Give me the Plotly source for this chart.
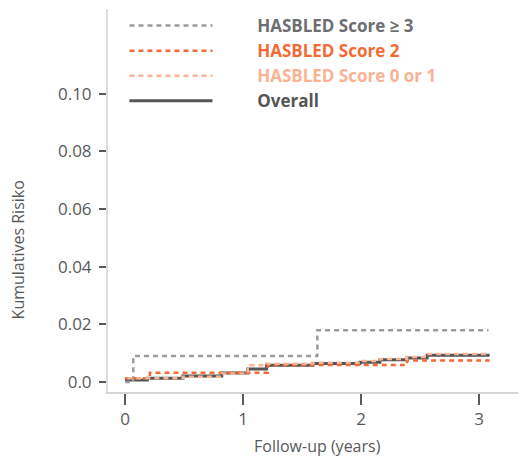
import plotly.graph_objects as go

# ---- data (step functions: time in years, cumulative risk) ----
overall_t = [0, 0.19, 0.49, 0.82, 1.04, 1.20, 1.59, 1.99, 2.16, 2.39, 2.56, 3.09]
overall_r = [0.0007, 0.0013, 0.0021, 0.0031, 0.0045, 0.0058, 0.0064, 0.0069, 0.0077, 0.0083, 0.0093, 0.0093]

hb3_t = [0, 0.07, 1.63, 3.08]
hb3_r = [0.0, 0.009, 0.018, 0.018]

hb2_t = [0, 0.21, 1.21, 2.39, 3.09]
hb2_r = [0.0013, 0.0032, 0.0059, 0.0075, 0.0075]

hb01_t = [0.02, 0.49, 0.82, 1.04, 1.20, 1.59, 1.99, 2.16, 2.39, 2.56, 3.09]
hb01_r = [0.0013, 0.0018, 0.0030, 0.0058, 0.0063, 0.0067, 0.0073, 0.0080, 0.0087, 0.0097, 0.0097]

x_ticks = [0, 1, 2, 3]
y_ticks = [0.0, 0.02, 0.04, 0.06, 0.08, 0.10]
y_tick_labels = ["0.0", "0.02", "0.04", "0.06", "0.08", "0.10"]

names = ["HASBLED Score \u2265 3", "HASBLED Score 2", "HASBLED Score 0 or 1", "Overall"]
colors = ["#9b9b9b", "#f26a36", "#f9b394", "#555555"]
text_colors = ["#6d6e71", "#f26a36", "#f9b394", "#555555"]

FONT = "Open Sans"
GAP = "\u00a0" * 9

fig = go.Figure()

def add(t, r, i, dash, width, rank):
    fig.add_trace(go.Scatter(
        x=t, y=r, mode="lines", line_shape="hv",
        line=dict(color=colors[i], width=width, dash=dash),
        name=f"{GAP}<span style='color:{text_colors[i]}'><b>{names[i]}</b></span>",
        legendrank=rank,
    ))

add(overall_t, overall_r, 3, "solid", 3, 4)
add(hb3_t, hb3_r, 0, "5px,4px", 2.5, 1)
add(hb2_t, hb2_r, 1, "5px,4px", 2.5, 2)
add(hb01_t, hb01_r, 2, "5px,4px", 2.5, 3)

fig.update_layout(
    width=518, height=451,
    margin=dict(l=100, r=0, t=0, b=67),
    paper_bgcolor="white", plot_bgcolor="white",
    font=dict(family=FONT, size=15, color="#58595b"),
    showlegend=True,
    legend=dict(
        x=0.0394, y=1.003, xanchor="left", yanchor="top",
        bgcolor="rgba(0,0,0,0)", itemwidth=83,
        font=dict(family=FONT, size=17),
        tracegroupgap=0,
    ),
    xaxis=dict(
        range=[-0.144, 3.398], tickvals=x_ticks, ticktext=[str(v) for v in x_ticks],
        showgrid=False, zeroline=False,
        showline=True, linecolor="#d6d6d6", linewidth=2,
        ticks="outside", ticklen=11, tickwidth=1.5, tickcolor="#58595b",
        tickfont=dict(size=17, color="#58595b"),
    ),
    yaxis=dict(
        range=[-0.00346, 0.1294], tickvals=y_ticks, ticktext=y_tick_labels,
        showgrid=False, zeroline=False,
        showline=True, linecolor="#dddddd", linewidth=2,
        ticks="outside", ticklen=7, tickwidth=1.5, tickcolor="#58595b",
        tickfont=dict(size=17, color="#58595b"), ticklabelstandoff=4,
    ),
)

fig.add_annotation(
    text="Kumulatives Risiko", textangle=-90,
    xref="paper", yref="paper", x=-0.215, y=0.37,
    showarrow=False, font=dict(size=16, color="#58595b", family=FONT),
    xanchor="center", yanchor="middle",
)
fig.add_annotation(
    text="Follow-up (years)",
    xref="paper", yref="paper", x=0.5, y=-0.142,
    showarrow=False, font=dict(size=16, color="#58595b", family=FONT),
    xanchor="center", yanchor="middle",
)

fig.write_html("out.html")
